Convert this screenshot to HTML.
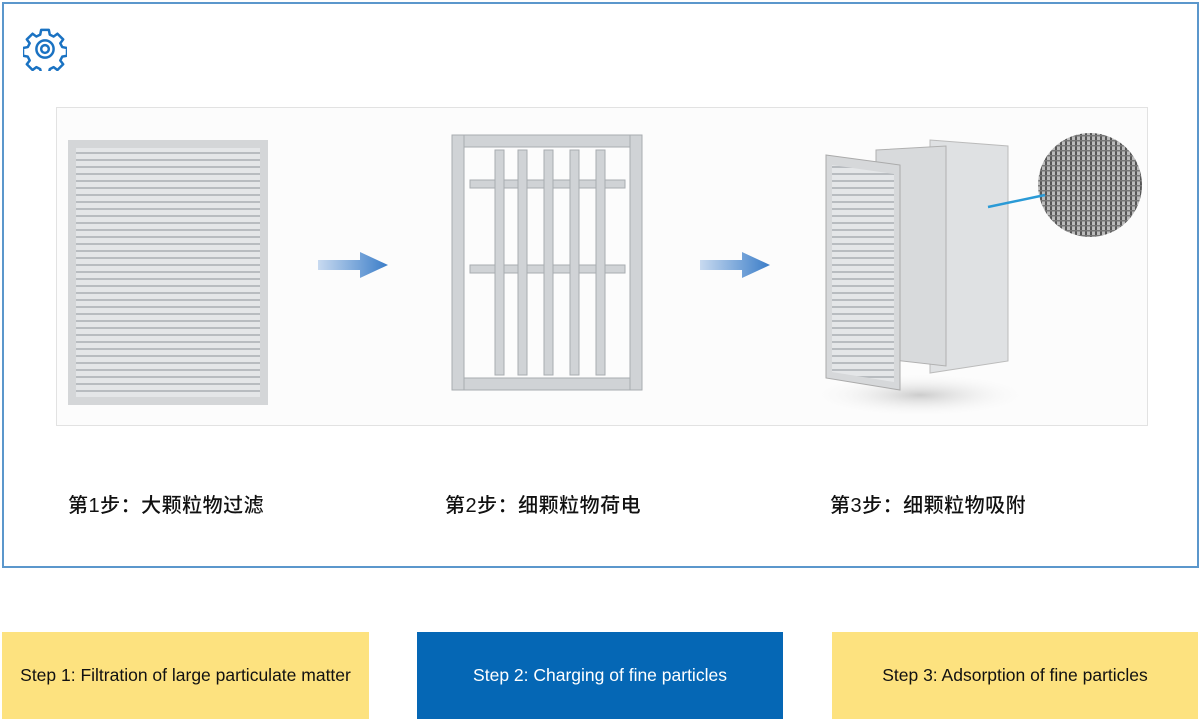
<!DOCTYPE html>
<html><head><meta charset="utf-8"><style>
body{margin:0;width:1200px;height:719px;background:#fff;position:relative;overflow:hidden;font-family:"Liberation Sans","Noto Sans CJK SC",sans-serif}
.frame{position:absolute;left:2px;top:2px;width:1193px;height:562px;border:2px solid #5b97cc}
.panel{position:absolute;left:56px;top:107px;width:1090px;height:317px;border:1px solid #e2e2e2;background:#fcfcfc}
.cn{position:absolute;top:489px;font-size:20px;letter-spacing:0.5px;color:#111;font-weight:500}
.box{position:absolute;top:632px;height:87px;display:flex;align-items:center;justify-content:center;font-size:17.5px}
</style></head><body>
<div class="frame"></div>
<svg style="position:absolute;left:23px;top:27px" width="44" height="44" viewBox="0 0 46 46">
<g fill="none" stroke="#1a72c2" stroke-width="2.6" stroke-linejoin="round">
<path d="M19 3h8l1 5 4 2 4-3 6 6-3 4 2 4 5 1v8l-5 1-2 4 3 4-6 6-4-3-4 2-1 5h-8l-1-5-4-2-4 3-6-6 3-4-2-4-5-1v-8l5-1 2-4-3-4 6-6 4 3 4-2z"/>
<circle cx="23" cy="23" r="9"/><circle cx="23" cy="23" r="4"/></g></svg>
<div class="panel"></div>
<svg style="position:absolute;left:0;top:0" width="1200" height="440">
<defs><linearGradient id="ar" x1="0" x2="1"><stop offset="0" stop-color="#c8daf0"/><stop offset="1" stop-color="#3b7dc8"/></linearGradient>
<pattern id="lv" width="10" height="7" patternUnits="userSpaceOnUse"><rect width="10" height="7" fill="#e4e6e8"/><rect y="5" width="10" height="2" fill="#b8bcc0"/></pattern>
<pattern id="mesh" width="5" height="5" patternUnits="userSpaceOnUse"><rect width="5" height="5" fill="#bbb"/><rect width="2" height="5" fill="#555"/><rect width="5" height="1.5" fill="#777"/></pattern>
<radialGradient id="sh"><stop offset="0" stop-color="#ccc"/><stop offset="1" stop-color="#fcfcfc" stop-opacity="0"/></radialGradient></defs>
<rect x="68" y="140" width="200" height="265" fill="#d4d6d8"/>
<rect x="76" y="148" width="184" height="249" fill="url(#lv)"/>
<path d="M318 260h42v-8l28 13-28 13v-8h-42z" fill="url(#ar)"/>
<path d="M700 260h42v-8l28 13-28 13v-8h-42z" fill="url(#ar)"/>
<g fill="#d0d3d6" stroke="#a8acb0">
<rect x="452" y="135" width="190" height="12"/><rect x="452" y="378" width="190" height="12"/>
<rect x="452" y="135" width="12" height="255"/><rect x="630" y="135" width="12" height="255"/>
<rect x="470" y="180" width="155" height="8"/><rect x="470" y="265" width="155" height="8"/>
<rect x="495" y="150" width="9" height="225"/><rect x="518" y="150" width="9" height="225"/><rect x="544" y="150" width="9" height="225"/><rect x="570" y="150" width="9" height="225"/><rect x="596" y="150" width="9" height="225"/>
</g>
<ellipse cx="920" cy="395" rx="110" ry="22" fill="url(#sh)"/>
<path d="M930 140l78 6v215l-78 12z" fill="#dfe1e3" stroke="#bbb"/>
<path d="M876 150l70-4v220l-70-8z" fill="#d8dadc" stroke="#b0b0b0"/>
<path d="M826 155l74 10v225l-74-12z" fill="#d6d8da" stroke="#aaa"/>
<path d="M832 165l62 9v208l-62-10z" fill="url(#lv)"/>
<circle cx="1090" cy="185" r="52" fill="url(#mesh)"/>
<line x1="988" y1="207" x2="1045" y2="195" stroke="#2a9ad6" stroke-width="2.5"/>
</svg>
<div class="cn" style="left:68px">第1步：大颗粒物过滤</div>
<div class="cn" style="left:445px">第2步：细颗粒物荷电</div>
<div class="cn" style="left:830px">第3步：细颗粒物吸附</div>
<div class="box" style="left:2px;width:367px;background:#fde27f;color:#111">Step 1: Filtration of large particulate matter</div>
<div class="box" style="left:417px;width:366px;background:#0567b5;color:#fff">Step 2: Charging of fine particles</div>
<div class="box" style="left:832px;width:366px;background:#fde27f;color:#111">Step 3: Adsorption of fine particles</div>
</body></html>
